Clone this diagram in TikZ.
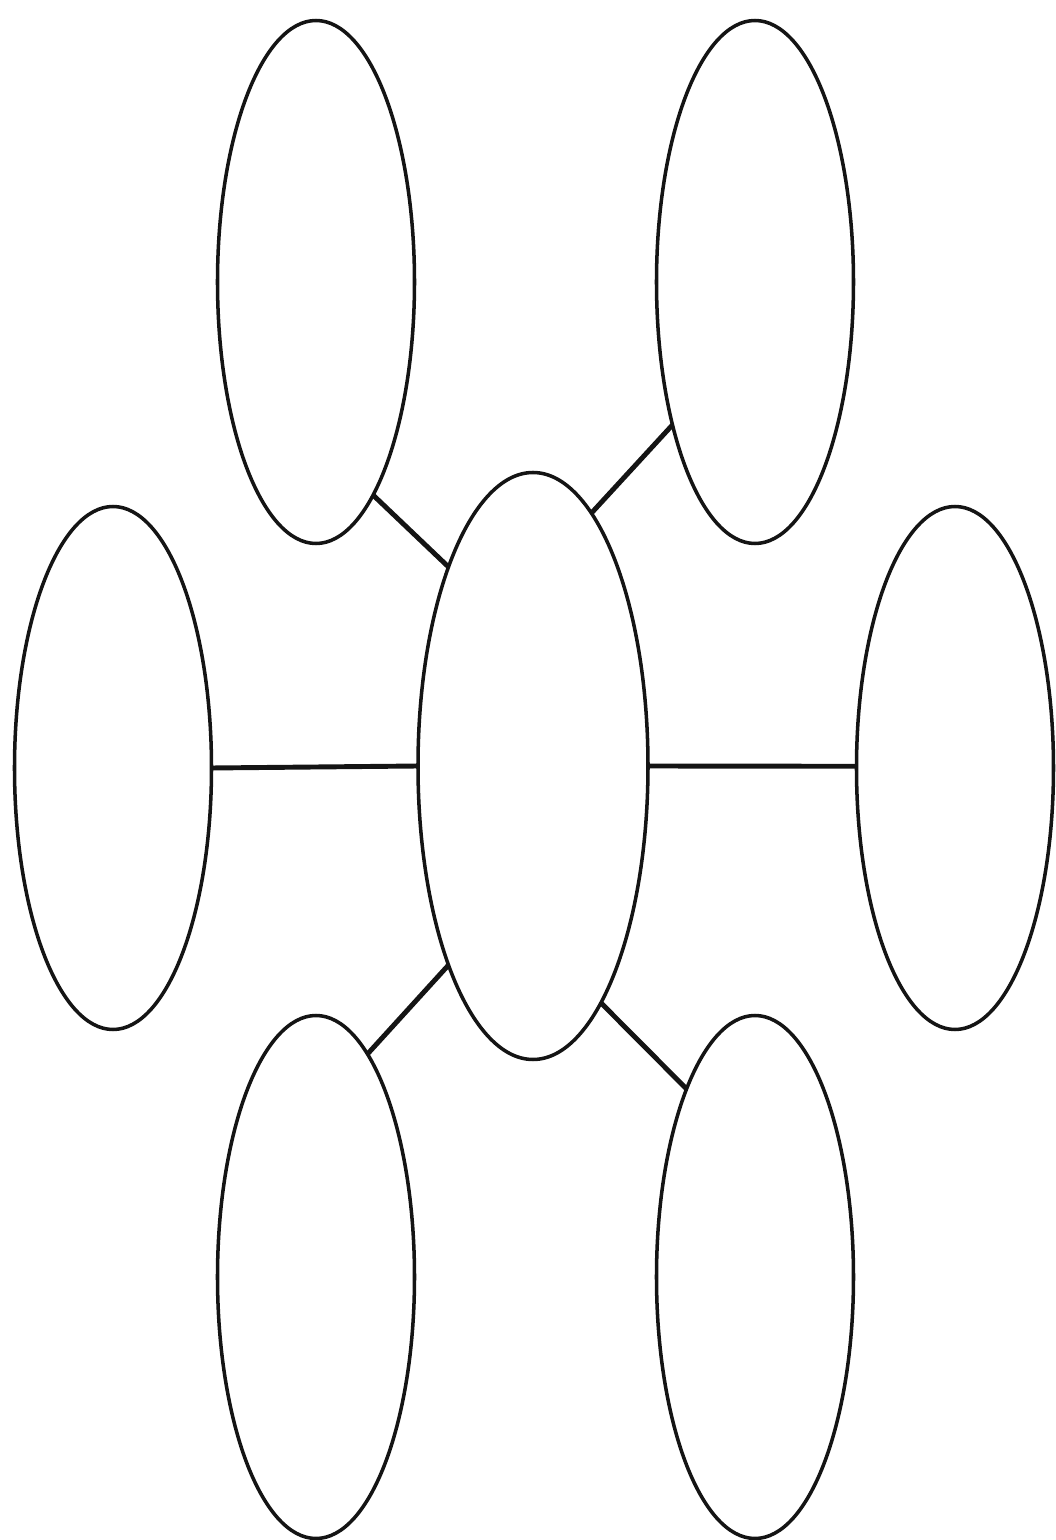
\documentclass[tikz,border=0pt]{standalone}
\usepackage{xcolor}
\usepackage{tikz}
\usetikzlibrary{shapes.geometric, positioning, calc}
\definecolor{inkblack}{RGB}{20, 20, 20}
\tikzset{
  bubble/.style={ellipse, draw=inkblack, line width=1pt, fill=white,
    inner sep=0pt, outer sep=0pt, minimum width=1.97cm, minimum height=5.23cm},
  hub/.style={bubble, minimum width=2.30cm, minimum height=5.87cm},
  spoke/.style={draw=inkblack, line width=1.4pt}
}

\begin{document}
\begin{tikzpicture}
    \useasboundingbox (0,0) rectangle (10.55,15.4);
    % Centre bubble
    \node[hub] (hub) at (5.33,7.74) {};
    % Outer bubbles
    \node[bubble] (topleft) at (3.16,12.58) {};
    \node[bubble] (topright) at (7.55,12.58) {};
    \node[bubble] (left) at (1.13,7.72) {};
    \node[bubble] (right) at (9.55,7.72) {};
    \node[bubble] (botleft) at (3.16,2.63) {};
    \node[bubble] (botright) at (7.55,2.63) {};
    % Spokes
    \draw[spoke] (hub.113) -- (topleft.-75);
    \draw[spoke] (hub.77) -- (topright.-120);
    \draw[spoke] (hub.180) -- (left.0);
    \draw[spoke] (hub.0) -- (right.179);
    \draw[spoke] (hub.-113) -- (botleft.77);
    \draw[spoke] (hub.-74) -- (botright.110);
  \end{tikzpicture}
\end{document}
